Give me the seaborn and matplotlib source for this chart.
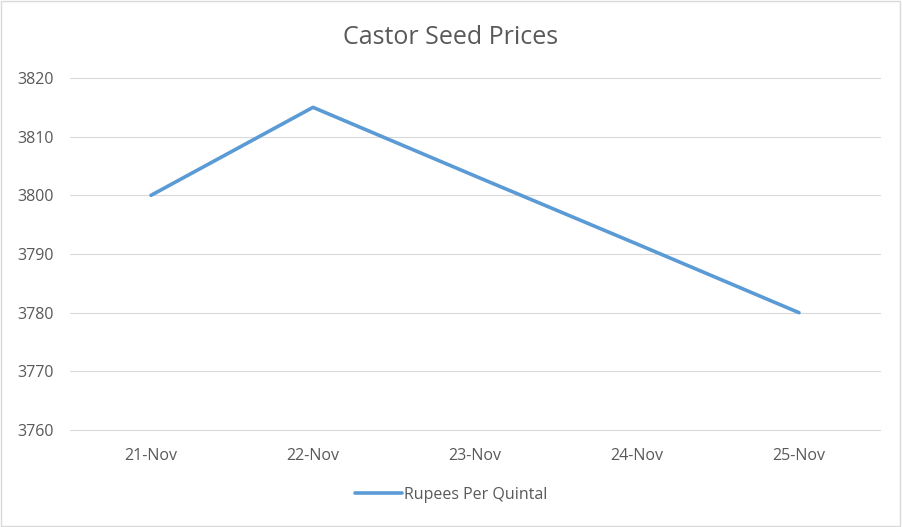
import matplotlib.pyplot as plt
import seaborn as sns
import numpy as np
import pandas as pd

dates = ['21-Nov', '22-Nov', '23-Nov', '24-Nov', '25-Nov']
prices = [3800, 3815, 3803.3, 3791.7, 3780]
series_name = 'Rupees Per Quintal'

df = pd.DataFrame({'pos': np.arange(len(dates)), 'price': prices, 'series': series_name})

sns.set_style('white')
plt.rcParams['font.family'] = ['Open Sans', 'DejaVu Sans']

fig = plt.figure(figsize=(9.02, 5.27), dpi=100)
ax = fig.add_axes([70 / 902, 1 - 430 / 527, 810 / 902, 352 / 527])

sns.lineplot(data=df, x='pos', y='price', hue='series', palette=['#5B9BD5'],
             linewidth=2.6, ax=ax, sort=False)

ax.set_xlim(-0.5, len(dates) - 0.5)
ax.set_ylim(3760, 3820)
ax.set_yticks(np.arange(3760, 3821, 10))
ax.set_xticks(np.arange(len(dates)))
ax.set_xticklabels(dates)
ax.set_xlabel('')
ax.set_ylabel('')
ax.grid(axis='y', color='#D9D9D9', linewidth=0.8)
for gl in ax.get_ygridlines():
    gl.set_clip_on(False)
ax.set_axisbelow(True)
for s in ax.spines.values():
    s.set_visible(False)
ax.tick_params(axis='both', length=0, labelsize=11.5, labelcolor='#595959')
ax.tick_params(axis='y', pad=12)
ax.tick_params(axis='x', pad=13)

fig.text(0.5, 1 - 37 / 527, 'Castor Seed Prices', ha='center', va='center',
         fontsize=18, color='#595959')

handles, labels = ax.get_legend_handles_labels()
ax.legend(handles, labels, loc='center', bbox_to_anchor=(0.5, 1 - 495 / 527),
          bbox_transform=fig.transFigure, frameon=False, fontsize=11.5,
          labelcolor='#595959', handlelength=3.0, handletextpad=0.1)

border = plt.Rectangle((0.001, 0.001), 0.997, 0.997, transform=fig.transFigure,
                       fill=False, edgecolor='#D9D9D9', linewidth=1)
fig.patches.append(border)

fig.savefig('out.png', dpi=100)
plt.close(fig)
